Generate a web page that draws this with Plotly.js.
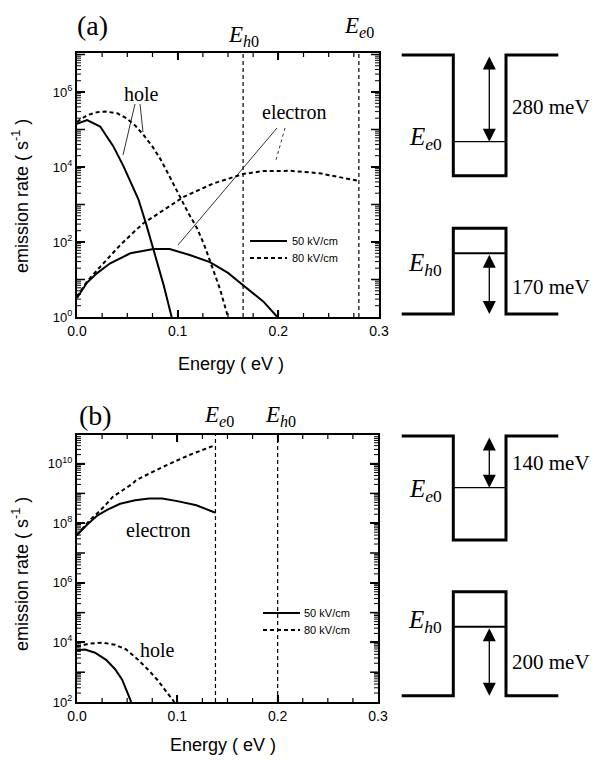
<!DOCTYPE html>
<html><head><meta charset="utf-8">
<script src="https://cdn.plot.ly/plotly-3.0.1.min.js"></script>
<style>html,body{margin:0;padding:0;background:#fff}#chart{width:592px;height:760px}</style>
</head><body><div id="chart"></div>
<script>
// ---------- Panel (a) data ----------
const aHole50E = [0, 0.010, 0.023, 0.036, 0.046, 0.054, 0.061, 0.069, 0.076, 0.086, 0.094];
const aHole50R = [1.41e5, 1.78e5, 1.2e5, 3.6e4, 1.07e4, 3.8e3, 1.38e3, 282, 63, 7.2, 1.0];
const aHole80E = [0, 0.010, 0.020, 0.029, 0.040, 0.049, 0.058, 0.066, 0.075, 0.083, 0.092, 0.102, 0.110, 0.119, 0.126, 0.132, 0.142, 0.150];
const aHole80R = [1.6e5, 2.4e5, 2.9e5, 3.0e5, 2.7e5, 2.0e5, 1.26e5, 7.2e4, 3.5e4, 1.6e4, 5.6e3, 1.6e3, 630, 240, 89, 32, 5.6, 1.0];
const aElec50E = [0, 0.010, 0.020, 0.033, 0.053, 0.076, 0.092, 0.102, 0.112, 0.132, 0.150, 0.165, 0.185, 0.199];
const aElec50R = [3.2, 8.3, 14.8, 27, 50, 65, 65, 55, 45, 29, 15, 7.0, 2.6, 1.0];
const aElec80E = [0, 0.010, 0.020, 0.030, 0.043, 0.056, 0.066, 0.086, 0.106, 0.135, 0.165, 0.185, 0.212, 0.241, 0.279];
const aElec80R = [3.5, 8.9, 17.8, 35, 83, 180, 316, 710, 1.6e3, 3.6e3, 6.5e3, 7.8e3, 7.9e3, 6.8e3, 4.3e3];
const aLevelsE = [0.165, 0.280];   // E_h0, E_e0

// ---------- Panel (b) data ----------
const bHole50E = [0, 0.008, 0.018, 0.029, 0.038, 0.045, 0.054];
const bHole50R = [5.5e3, 5.8e3, 4.5e3, 2.6e3, 1.26e3, 560, 100];
const bHole80E = [0, 0.012, 0.026, 0.038, 0.049, 0.060, 0.070, 0.080, 0.089, 0.097];
const bHole80R = [7.2e3, 9.1e3, 9.8e3, 8.3e3, 5.8e3, 2.8e3, 1.3e3, 560, 224, 100];
const bElec50E = [0, 0.010, 0.020, 0.030, 0.043, 0.058, 0.072, 0.085, 0.100, 0.119, 0.138];
const bElec50R = [4.0e7, 8.9e7, 1.78e8, 2.8e8, 4.5e8, 5.9e8, 6.8e8, 6.8e8, 5.5e8, 4.0e8, 2.24e8];
const bElec80E = [0, 0.013, 0.023, 0.036, 0.056, 0.059, 0.086, 0.112, 0.138];
const bElec80R = [4.0e7, 1.29e8, 2.6e8, 7.8e8, 2.2e9, 2.8e9, 7.9e9, 1.95e10, 4.2e10];
const bLevelsE = [0.138, 0.200];   // E_e0, E_h0

const fieldNames = ['50 kV/cm', '80 kV/cm'];
const xTicks = [0, 0.1, 0.2, 0.3];
const aYRange = [0, 7.04];
const bYRange = [2, 10.96];
const aYTicks = [1, 100, 1e4, 1e6];
const aYText = ['10<sup>0</sup>', '10<sup>2</sup>', '10<sup>4</sup>', '10<sup>6</sup>'];
const bYTicks = [1e2, 1e4, 1e6, 1e8, 1e10];
const bYText = ['10<sup>2</sup>', '10<sup>4</sup>', '10<sup>6</sup>', '10<sup>8</sup>', '10<sup>10</sup>'];
const diagramLabels = ['280 meV', '170 meV', '140 meV', '200 meV'];

// ---------- helpers ----------
const W = 592, H = 760;
const px = x => x / W, py = y => 1 - y / H;
const SANS = 'Liberation Sans', SERIF = 'Liberation Serif';
const solid = {color: 'black', width: 2};
const dashed = {color: 'black', width: 2, dash: '4px,3px'};
const levelLine = {color: 'black', width: 1.2, dash: '4px,3px'};
const panelA = {l: 77, r: 379, t: 53, b: 317};
const panelB = {l: 77, r: 378, t: 435, b: 702};

function curve(x, y, ax, line) {
  return {x: x, y: y, xaxis: ax[0], yaxis: ax[1], mode: 'lines', line: line, hoverinfo: 'skip'};
}
function vline(e, ax, range) {
  return {x: [e, e], y: [Math.pow(10, range[0]), Math.pow(10, range[1])], xaxis: ax[0], yaxis: ax[1],
    mode: 'lines', line: levelLine, hoverinfo: 'skip'};
}
const A = ['x', 'y'], B = ['x2', 'y2'];
const traces = [
  curve(aHole50E, aHole50R, A, solid), curve(aHole80E, aHole80R, A, dashed),
  curve(aElec50E, aElec50R, A, solid), curve(aElec80E, aElec80R, A, dashed),
  curve(bHole50E, bHole50R, B, solid), curve(bHole80E, bHole80R, B, dashed),
  curve(bElec50E, bElec50R, B, solid), curve(bElec80E, bElec80R, B, dashed),
  vline(aLevelsE[0], A, aYRange), vline(aLevelsE[1], A, aYRange),
  vline(bLevelsE[0], B, bYRange), vline(bLevelsE[1], B, bYRange)
];

const axBase = {showline: true, linewidth: 2, linecolor: 'black', mirror: 'ticks', ticks: 'inside',
  tickcolor: 'black', showgrid: false, zeroline: false};
function xAx(p, anchor) {
  return Object.assign({}, axBase, {domain: [px(p.l), px(p.r)], anchor: anchor, range: [0, 0.3],
    tickvals: xTicks, tickformat: '.1f', ticklen: 7, tickwidth: 1.5,
    tickfont: {family: SANS, size: 14, color: 'black'}});
}
function yAx(p, anchor, range, tv, tt) {
  return Object.assign({}, axBase, {domain: [py(p.b), py(p.t)], anchor: anchor, type: 'log', range: range,
    tickvals: tv, ticktext: tt, ticklen: 8, tickwidth: 1.5,
    tickfont: {family: SANS, size: 13, color: 'black'}});
}

const shapes = [];
// inside tick marks on all four sides (drawn relative to each subplot's axes)
function addTicks(p, xa, ya, yRange) {
  const pw = p.r - p.l, ph = p.b - p.t;
  for (let i = 1; i <= 11; i++) {
    const v = i * 0.025, major = i % 4 === 0;
    const f = (major ? 7 : 4) / ph, w = major ? 1.5 : 1.2;
    [[0, f], [1, 1 - f]].forEach(s => shapes.push({type: 'line', xref: xa, yref: ya + ' domain',
      x0: v, x1: v, y0: s[0], y1: s[1], line: {color: 'black', width: w}}));
  }
  for (let d = Math.floor(yRange[0]); d <= Math.ceil(yRange[1]); d++) {
    for (let k = 1; k <= 9; k++) {
      const fy = (Math.log10(k * Math.pow(10, d)) - yRange[0]) / (yRange[1] - yRange[0]);
      if (fy <= 0.002 || fy >= 0.998) continue;
      const f = (k === 1 ? 8 : 4) / pw, w = k === 1 ? 1.5 : 1;
      [[0, f], [1, 1 - f]].forEach(s => shapes.push({type: 'line', xref: xa + ' domain', yref: ya + ' domain',
        x0: s[0], x1: s[1], y0: fy, y1: fy, line: {color: 'black', width: w}}));
    }
  }
}
addTicks(panelA, 'x', 'y', aYRange);
addTicks(panelB, 'x2', 'y2', bYRange);

function pline(x0, y0, x1, y1, style) {
  shapes.push({type: 'line', xref: 'paper', yref: 'paper', x0: px(x0), y0: py(y0), x1: px(x1), y1: py(y1),
    line: style || {color: 'black', width: 0.8}});
}
// label pointers
pline(135, 104, 123, 155);
pline(140, 104, 143, 132);
pline(277, 128, 178, 245);
pline(285, 128, 276, 160, {color: 'black', width: 0.8, dash: '3px,3px'});
// legend samples
pline(250, 241, 287, 241, solid);
pline(250, 258, 287, 258, dashed);
pline(263, 613, 300, 613, solid);
pline(263, 630, 300, 630, dashed);

// band diagrams
const xL = 401.7, xW1 = 453.3, xW2 = 506, xR = 558.3, xArrow = 489.3;
function pathStr(pts) {
  return pts.map((p, i) => (i ? 'L' : 'M') + px(p[0]).toFixed(5) + ',' + py(p[1]).toFixed(5)).join(' ');
}
function well(top, bottom, inverted) {
  const pts = inverted
    ? [[xL, bottom], [xW1, bottom], [xW1, top], [xW2, top], [xW2, bottom], [xR, bottom]]
    : [[xL, top], [xW1, top], [xW1, bottom], [xW2, bottom], [xW2, top], [xR, top]];
  shapes.push({type: 'path', xref: 'paper', yref: 'paper', path: pathStr(pts), line: {color: 'black', width: 3}});
}
function level(y, w) { pline(xW1, y, xW2, y, {color: 'black', width: w}); }
well(55, 175.7, false); level(141.7, 1.2);
well(228.3, 314, true); level(253.3, 2);
well(436, 540, false); level(487.7, 1.2);
well(591.7, 695.7, true); level(626.7, 2);

const annotations = [];
function txt(text, x, y, size, family, xanchor, extra) {
  annotations.push(Object.assign({text: text, xref: 'paper', yref: 'paper', x: px(x), y: py(y),
    xanchor: xanchor || 'center', yanchor: 'middle', showarrow: false,
    font: {family: family || SERIF, size: size, color: 'black'}}, extra || {}));
}
function dblArrow(yTop, yBot) {
  annotations.push({text: '', xref: 'paper', yref: 'paper', x: px(xArrow), y: py(yBot),
    axref: 'pixel', ayref: 'pixel', ax: 0, ay: -(yBot - yTop), showarrow: true, arrowside: 'end+start',
    arrowhead: 2, startarrowhead: 2, arrowsize: 2, startarrowsize: 2, arrowwidth: 1.3, arrowcolor: 'black',
    standoff: 0, startstandoff: 0});
}
dblArrow(55, 141.7);
dblArrow(253.3, 314);
dblArrow(436, 487.7);
dblArrow(626.7, 695.7);

txt(diagramLabels[0], 510, 107, 21, SERIF, 'left');
txt(diagramLabels[1], 510, 287, 21, SERIF, 'left');
txt(diagramLabels[2], 510, 463, 21, SERIF, 'left');
txt(diagramLabels[3], 510, 662, 21, SERIF, 'left');
const Ee0 = '<i>E</i><sub><i>e</i>0</sub>', Eh0 = '<i>E</i><sub><i>h</i>0</sub>';
txt(Ee0, 425, 139, 25);
txt(Eh0, 425, 265, 25);
txt(Ee0, 425, 490, 25);
txt(Eh0, 425, 621, 25);

txt('(a)', 92, 25, 28);
txt('(b)', 95, 415, 28);
txt(Eh0, 243, 36, 23);
txt(Ee0, 359, 27, 23);
txt(Ee0, 219, 416, 23);
txt(Eh0, 280, 416, 23);

txt('hole', 141, 94, 20);
txt('electron', 294, 112, 20);
txt('electron', 158, 530, 20);
txt('hole', 157, 650, 20);

txt(fieldNames[0], 290, 241, 11, SANS, 'left');
txt(fieldNames[1], 290, 258, 11, SANS, 'left');
txt(fieldNames[0], 302, 613, 11, SANS, 'left');
txt(fieldNames[1], 302, 630, 11, SANS, 'left');

txt('Energy ( eV )', 231, 364, 18, SANS);
txt('Energy ( eV )', 223, 745, 18, SANS);
txt('emission rate ( s<sup>-1</sup> )', 20, 196, 18, SANS, 'center', {textangle: -90});
txt('emission rate ( s<sup>-1</sup> )', 20, 574, 18, SANS, 'center', {textangle: -90});

const layout = {
  width: W, height: H, margin: {l: 0, r: 0, t: 0, b: 0},
  paper_bgcolor: 'white', plot_bgcolor: 'rgba(0,0,0,0)', showlegend: false,
  xaxis: xAx(panelA, 'y'),
  yaxis: yAx(panelA, 'x', aYRange, aYTicks, aYText),
  xaxis2: xAx(panelB, 'y2'),
  yaxis2: yAx(panelB, 'x2', bYRange, bYTicks, bYText),
  shapes: shapes,
  annotations: annotations
};

Plotly.newPlot('chart', traces, layout, {displayModeBar: false});
</script>
</body></html>
